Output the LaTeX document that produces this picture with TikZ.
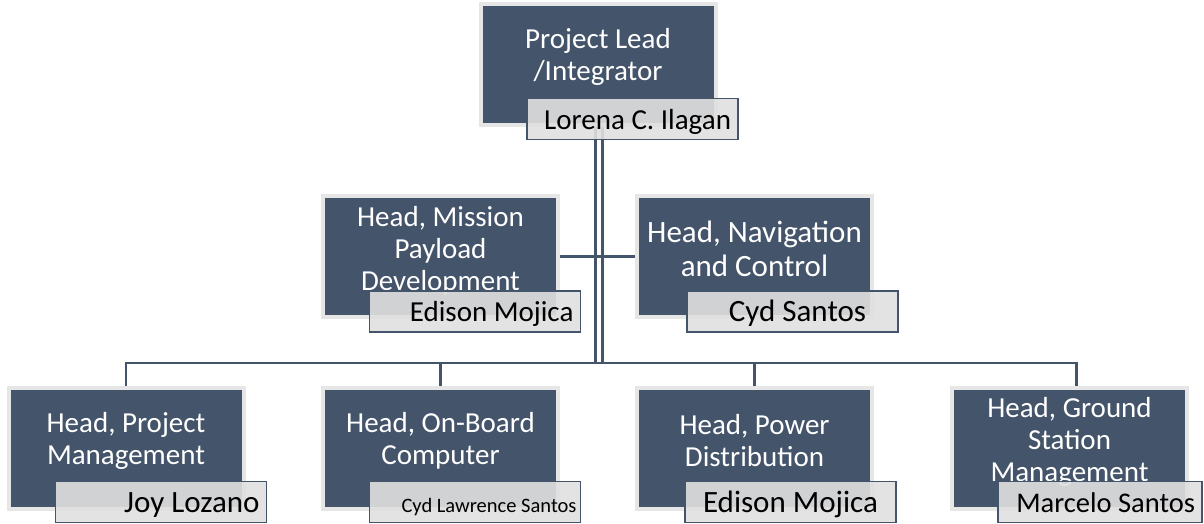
\documentclass[tikz,border=0pt]{standalone}
\usepackage{fontspec}
\setmainfont{Carlito}
\usetikzlibrary{backgrounds,calc}
\definecolor{slate}{HTML}{44546A}
\definecolor{rimgray}{HTML}{E7E6E6}
\definecolor{namegray}{HTML}{E0E0E0}
\tikzset{
  headbox/.style={fill=slate, draw=rimgray, line width=4pt, minimum width=235pt, minimum height=121pt, inner sep=0pt},
  headtext/.style={text=white, align=center, font=\fontsize{29}{32}\selectfont, inner sep=0pt},
  namebox/.style={fill=namegray, fill opacity=0.9, text opacity=1, draw=slate, line width=1.5pt,
    minimum width=211pt, minimum height=41pt, inner xsep=7pt, inner ysep=0pt,
    text height=26pt, text depth=6pt, text=black, text width=197pt, align=flush right,
    font=\fontsize{29}{34}\selectfont},
  link/.style={draw=slate, line width=2.5pt},
  twin/.style={draw=slate, line width=3pt, double=white, double distance=3.5pt},
}
\begin{document}
\begin{tikzpicture}[x=1pt,y=-1pt]
\useasboundingbox (0,0) rectangle (1204,524);

% head boxes
\node[headbox] (pl)  at (598,65) {};
\node[headbox] (mpd) at (440.5,256.5) {};
\node[headbox] (nav) at (754.5,256.5) {};
\node[headbox] (pm)  at (126,448) {};
\node[headbox] (obc) at (440.5,448) {};
\node[headbox] (pd)  at (754.5,448) {};
\node[headbox] (gs)  at (1069.5,448) {};

% titles
\node[headtext] (plt)  at ($(pl)+(0,-8)$)  {Project Lead\\/Integrator};
\node[headtext] (mpdt) at ($(mpd)+(0,-6)$) {Head, Mission\\Payload\\Development};
\node[headtext, font=\fontsize{31}{34}\selectfont] (navt) at ($(nav)+(0,-8)$) {Head, Navigation\\and Control};
\node[headtext] (pmt)  at ($(pm)+(0,-7)$)  {Head, Project\\Management};
\node[headtext] (obct) at ($(obc)+(0,-7)$) {Head, On-Board\\Computer};
\node[headtext] (pdt)  at ($(pd)+(0,-7)$)  {Head, Power\\Distribution};
\node[headtext] (gst)  at ($(gs)+(0,-6)$)  {Head, Ground\\Station\\Management};

% name boxes
\node[namebox] (pln)  at ($(pl)+(34.5,54)$)   {Lorena C. Ilagan};
\node[namebox] (mpdn) at ($(mpd)+(34.5,55)$)  {Edison Mojica};
\node[namebox, align=flush center, font=\fontsize{31}{36}\selectfont] (navn) at ($(nav)+(38,55)$) {\hspace*{10pt}Cyd Santos};
\node[namebox, font=\fontsize{31}{36}\selectfont] (pmn) at ($(pm)+(35,54)$) {Joy Lozano};
\node[namebox, inner xsep=4pt, text width=203pt, font=\fontsize{20.5}{24}\selectfont] (obcn) at ($(obc)+(34.5,54)$) {Cyd Lawrence Santos};
\node[namebox, align=flush center, font=\fontsize{31}{36}\selectfont] (pdn) at ($(pd)+(36,54)$) {Edison Mojica};
\node[namebox, minimum width=204pt, text width=190pt, font=\fontsize{28.5}{33}\selectfont] (gsn) at ($(gs)+(30.5,54)$) {Marcelo Santos};

% connectors
\coordinate (bus) at (599,363);
\begin{scope}[on background layer]
  \draw[twin] ([xshift=1pt]pl.south) -- ([xshift=1pt]pl.south |- bus);
  \draw[link] (mpd.east) -- (nav.west);
  \draw[link] (pm.north) -- (pm.north |- bus) -- ([xshift=7pt]gs.north |- bus) -- ([xshift=7pt]gs.north);
  \draw[link] (obc.north) -- (obc.north |- bus);
  \draw[link] (pd.north) -- (pd.north |- bus);
\end{scope}
\end{tikzpicture}
\end{document}
